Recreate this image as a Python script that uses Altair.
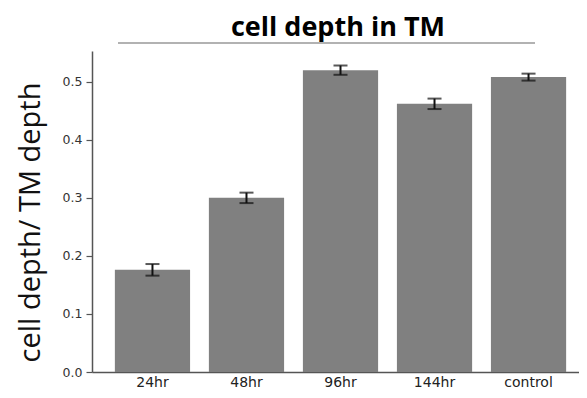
import altair as alt
import pandas as pd

categories = ["24hr", "48hr", "96hr", "144hr", "control"]
means = [0.176, 0.300, 0.520, 0.462, 0.508]
errors = [0.010, 0.009, 0.008, 0.009, 0.006]
y_ticks = [0.0, 0.1, 0.2, 0.3, 0.4, 0.5]
title_text = "cell depth in TM"
y_title = "cell depth/ TM depth"

df = pd.DataFrame({"cat": categories, "mean": means, "err": errors})
df["lo"] = df["mean"] - df["err"]
df["hi"] = df["mean"] + df["err"]

xscale = alt.Scale(paddingInner=0.2, paddingOuter=0.19, align=0.64)
yscale = alt.Scale(domain=[0, 0.553], nice=False, zero=True)

x_enc = alt.X(
    "cat:N", sort=categories, scale=xscale, title=None,
    axis=alt.Axis(labelAngle=0, labelFont="DejaVu Sans", labelFontSize=14,
                  labelColor="#222", ticks=False, labelPadding=3,
                  domainColor="#555", domainWidth=1.5),
)
y_axis = alt.Axis(
    values=y_ticks, format=".1f", grid=False, labelFont="DejaVu Sans",
    labelFontSize=12.5, labelColor="#333", tickSize=6, tickColor="#555",
    tickWidth=1.2, labelPadding=4, domainColor="#555", domainWidth=1.5,
    title=y_title, titleFont="Open Sans", titleFontSize=29,
    titleFontWeight="normal", titleColor="#111", titleX=-62, titleY=171,
    titleAlign="center", titleBaseline="middle", titleAngle=270,
)

base = alt.Chart(df)
bars = base.mark_bar(color="#808080").encode(
    x=x_enc, y=alt.Y("mean:Q", scale=yscale, axis=y_axis)
)
stems = base.mark_rule(color="#111", strokeWidth=2).encode(
    x=alt.X("cat:N", sort=categories), y="lo:Q", y2="hi:Q"
)
cap_lo = base.mark_tick(color="#111", thickness=2, size=14, orient="horizontal").encode(
    x=alt.X("cat:N", sort=categories), y="lo:Q"
)
cap_hi = base.mark_tick(color="#111", thickness=2, size=14, orient="horizontal").encode(
    x=alt.X("cat:N", sort=categories), y="hi:Q"
)

title = alt.Chart(pd.DataFrame({"t": [title_text]})).mark_text(
    font="Open Sans", fontSize=27, fontWeight="bold", color="#000",
    align="center", baseline="alphabetic"
).encode(x=alt.value(246), y=alt.value(-15), text="t:N")

underline = alt.Chart(pd.DataFrame({"t": [title_text]})).mark_rule(
    color="#999", strokeWidth=1.5
).encode(x=alt.value(26), x2=alt.value(443), y=alt.value(-8))

chart = alt.layer(bars, stems, cap_lo, cap_hi, underline, title).properties(
    width=487, height=321,
    autosize=alt.AutoSizeParams(type="none"),
    padding={"left": 84, "top": 43, "right": 0, "bottom": 18},
).configure_view(stroke=None)

chart.save("out.html", embed_options={"renderer": "svg", "actions": False})
